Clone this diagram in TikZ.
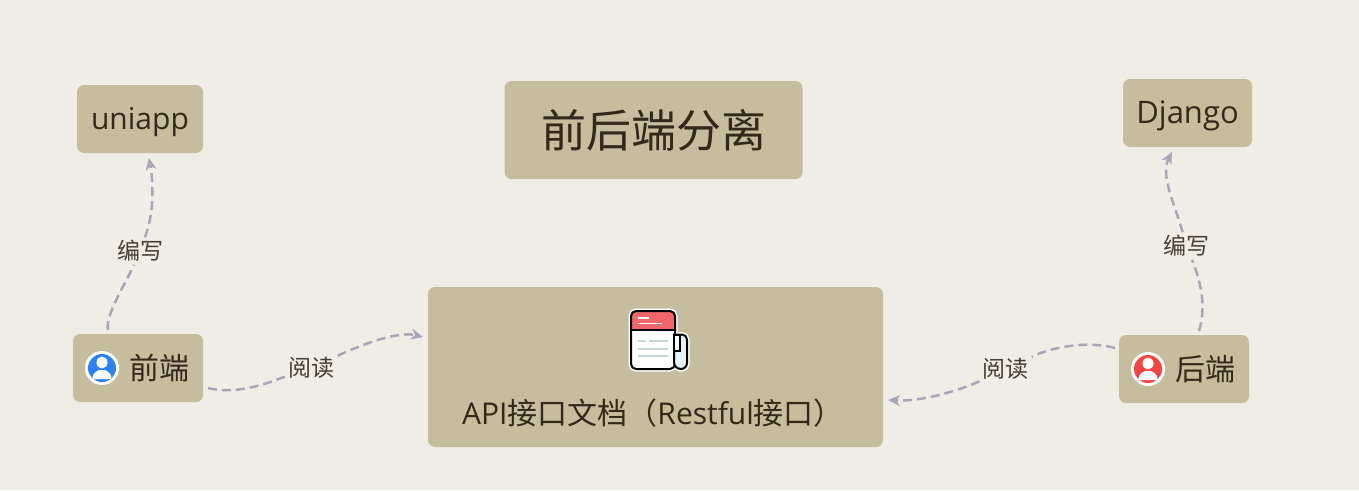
\documentclass[tikz,border=0pt]{standalone}
\usepackage{fontspec}
\setmainfont{Noto Sans CJK SC}
\newfontfamily\latn{Open Sans}
\usetikzlibrary{arrows.meta}
\definecolor{bgc}{HTML}{F0EDE6}
\definecolor{boxc}{HTML}{C5BD9D}
\definecolor{inkc}{HTML}{33291A}
\definecolor{linkc}{HTML}{A9A6B5}
\definecolor{bluec}{HTML}{2B82F6}
\definecolor{redc}{HTML}{F5443F}
\definecolor{docred}{HTML}{F0666A}
\definecolor{docline}{HTML}{C5D5D8}
\definecolor{scrollc}{HTML}{E6F3F6}
\tikzset{
  boxn/.style={fill=boxc,rounded corners=7pt,inner sep=0pt,text=inkc,anchor=center},
  tagn/.style={inner sep=3pt,text=inkc!90,font=\fontsize{23}{25}\selectfont},
  linkp/.style={draw=linkc,line width=2.5pt,dash pattern=on 9pt off 5pt},
  linka/.style={linkp,-{Stealth[length=12pt,width=11pt]}},
  boxt/.style={text=inkc,inner sep=0pt},
}
\newcommand{\personicon}[2]{%
  \begin{scope}[shift={(#1)}]
    \fill[white] (0,0) circle[radius=17];
    \fill[#2] (0,0) circle[radius=14];
    \begin{scope}
      \clip (0,0) circle[radius=14];
      \fill[white] (0,-5.5) ellipse[x radius=5.5,y radius=6];
      \fill[white] (-9.5,11) .. controls (-9.5,4) and (-5,3.5) .. (-3,2) -- (3,2) .. controls (5,3.5) and (9.5,4) .. (9.5,11) -- cycle;
    \end{scope}
  \end{scope}}
\begin{document}
\begin{tikzpicture}[x=1pt,y=-1pt]
\useasboundingbox[fill=bgc] (0,0) rectangle (1359,490);
% boxes
\node[boxn,minimum width=126pt,minimum height=68pt] (uni) at (140,119) {};
\node[boxn,minimum width=298pt,minimum height=98pt,font=\fontsize{45}{48}\selectfont] (title) at (653.5,130) {前后端分离};
\node[boxn,minimum width=129pt,minimum height=68pt] (dj) at (1187.5,113) {};
\node[boxn,minimum width=130pt,minimum height=68pt] (fe) at (138,368) {};
\node[boxn,minimum width=130pt,minimum height=68pt] (be) at (1184,369) {};
\node[boxn,minimum width=455pt,minimum height=160pt] (api) at (655.5,367) {};
\node[boxt,font=\latn\fontsize{30}{32}\selectfont] (unit) at (140,122) {uniapp};
\node[boxt,font=\latn\fontsize{31}{33}\selectfont] (djt) at (1187.5,116) {Django};
\node[boxt,font=\fontsize{30}{32}\selectfont] (fet) at (159,368) {前端};
\node[boxt,font=\fontsize{30}{32}\selectfont] (bet) at (1205,369) {后端};
\node[boxt,font=\fontsize{30}{32}\selectfont] (apit) at (653,413) {{\latn API}接口文档（{\latn Restful}接口）};
% person icons
\personicon{102,368}{bluec}
\personicon{1148,369}{redc}
% document icon
\begin{scope}[rounded corners=5pt]
  \draw[white,line width=5pt] (631,311) rectangle (675,369);
  \draw[white,line width=5pt] (675,334.5) rectangle (687,369);
  \fill[white] (631,311) rectangle (675,369);
  \begin{scope}
    \clip (631,311) rectangle (675,369);
    \fill[docred,sharp corners] (631,311) rectangle (675,329.5);
  \end{scope}
  \draw[black,line width=2pt] (631,311) rectangle (675,369);
\end{scope}
\draw[black,line width=2pt] (631,329.5) -- (675,329.5);
\draw[white,line width=1.6pt] (637.7,318) -- (649,318) (637.7,323.3) -- (662.3,323.3);
\draw[docline,line width=1.8pt] (637.7,341.3) -- (645.7,341.3) (649,341.3) -- (667.7,341.3) (637.7,348.7) -- (667.7,348.7) (637.7,356.3) -- (667.7,356.3);
\filldraw[fill=scrollc,draw=black,line width=2pt] (674,334.5) -- (682,334.5) arc[start angle=-90,end angle=0,radius=5] -- (687,363) arc[start angle=0,end angle=90,radius=6] -- (681,369) .. controls (677,369) and (674,366) .. (674,362) -- cycle;
\draw[black,line width=2pt] (674,334.5) rectangle (679.5,351);
\fill[white] (675,335.5) rectangle (678.5,350);
% connector labels
\node[tagn] (r1) at (311.5,368) {阅读};
\node[tagn] (r2) at (1005.5,369) {阅读};
\node[tagn] (w1) at (140,251) {编写};
\node[tagn] (w2) at (1186.5,246) {编写};
% connectors
\draw[linkp] ([shift={(70,20)}]fe.center) .. controls (240,396) and (275,380) .. (r1);
\draw[linka] (r1) .. controls (350,350) and (395,330) .. ([shift={(-232.5,-30)}]api.center);
\draw[linkp] ([shift={(-69,-21)}]be.center) .. controls (1085,340) and (1050,348) .. (r2);
\draw[linka] (r2) .. controls (965,388) and (925,402) .. ([shift={(232.5,33)}]api.center);
\draw[linkp] ([shift={(-30,-38)}]fe.center) .. controls (105,315) and (125,285) .. (w1);
\draw[linka] (w1) .. controls (155,210) and (153,180) .. ([shift={(9,39)}]uni.center);
\draw[linkp] ([shift={(15,-38)}]be.center) .. controls (1207,305) and (1200,280) .. (w2);
\draw[linka] (w2) .. controls (1175,205) and (1160,175) .. ([shift={(-15.5,39)}]dj.center);
\end{tikzpicture}
\end{document}
